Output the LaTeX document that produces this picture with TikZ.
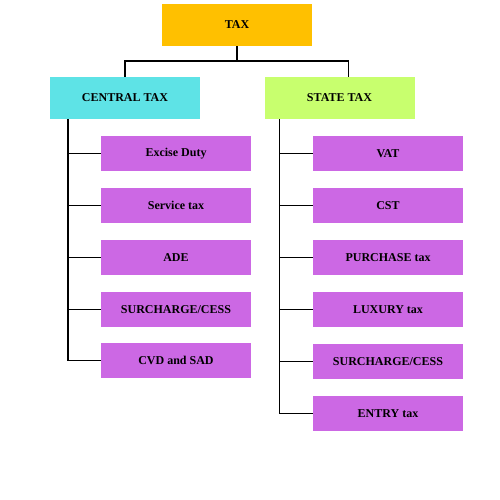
\documentclass[tikz,border=0pt]{standalone}
\usepackage{fontspec}
\setmainfont{Liberation Serif}
\definecolor{taxorange}{RGB}{255,192,0}
\definecolor{centralcyan}{RGB}{94,227,230}
\definecolor{stategreen}{RGB}{200,255,110}
\definecolor{itempurple}{RGB}{204,104,228}
\tikzset{
  headbox/.style={minimum width=150pt,minimum height=42pt,inner sep=0pt,font=\fontsize{12}{14}\selectfont\bfseries},
  itembox/.style={fill=itempurple,minimum width=150pt,minimum height=35pt,inner sep=0pt,font=\fontsize{12}{14}\selectfont\bfseries},
  link/.style={line width=1.6pt,black}
}
\begin{document}
\begin{tikzpicture}[x=1pt,y=-1pt]
\useasboundingbox (0,0) rectangle (500,500);
\node[headbox,fill=taxorange] (tax) at (237,25) {TAX};
\node[headbox,fill=centralcyan] (central) at (125,98) {CENTRAL TAX};
\node[headbox,fill=stategreen] (state) at (339.5,98) {STATE TAX};
\coordinate (split) at (237,61);
\draw[link] (tax.south) -- (split);
\draw[link] (split) -| (central.north);
\draw[link] (split) -| ([xshift=9pt]state.north);
% central tax items
\node[itembox] (c1) at (176,153.5) {Excise Duty};
\node[itembox] (c2) at (176,205.5) {Service tax};
\node[itembox] (c3) at (176,257.5) {ADE};
\node[itembox] (c4) at (176,309.5) {SURCHARGE/CESS};
\node[itembox] (c5) at (176,360.5) {CVD and SAD};
\coordinate (ctrunk) at ([xshift=18pt]central.south west);
\draw[link] (ctrunk) -- (ctrunk |- c5.west);
\foreach \i in {1,...,5}
  \draw[link] (ctrunk |- c\i.west) -- (c\i.west);
% state tax items
\node[itembox] (s1) at (388,153.5) {VAT};
\node[itembox] (s2) at (388,205.5) {CST};
\node[itembox] (s3) at (388,257.5) {PURCHASE tax};
\node[itembox] (s4) at (388,309.5) {LUXURY tax};
\node[itembox] (s5) at (388,361.5) {SURCHARGE/CESS};
\node[itembox] (s6) at (388,413.5) {ENTRY tax};
\coordinate (strunk) at ([xshift=15pt]state.south west);
\draw[link] (strunk) -- (strunk |- s6.west);
\foreach \i in {1,...,6}
  \draw[link] (strunk |- s\i.west) -- (s\i.west);
\end{tikzpicture}
\end{document}
